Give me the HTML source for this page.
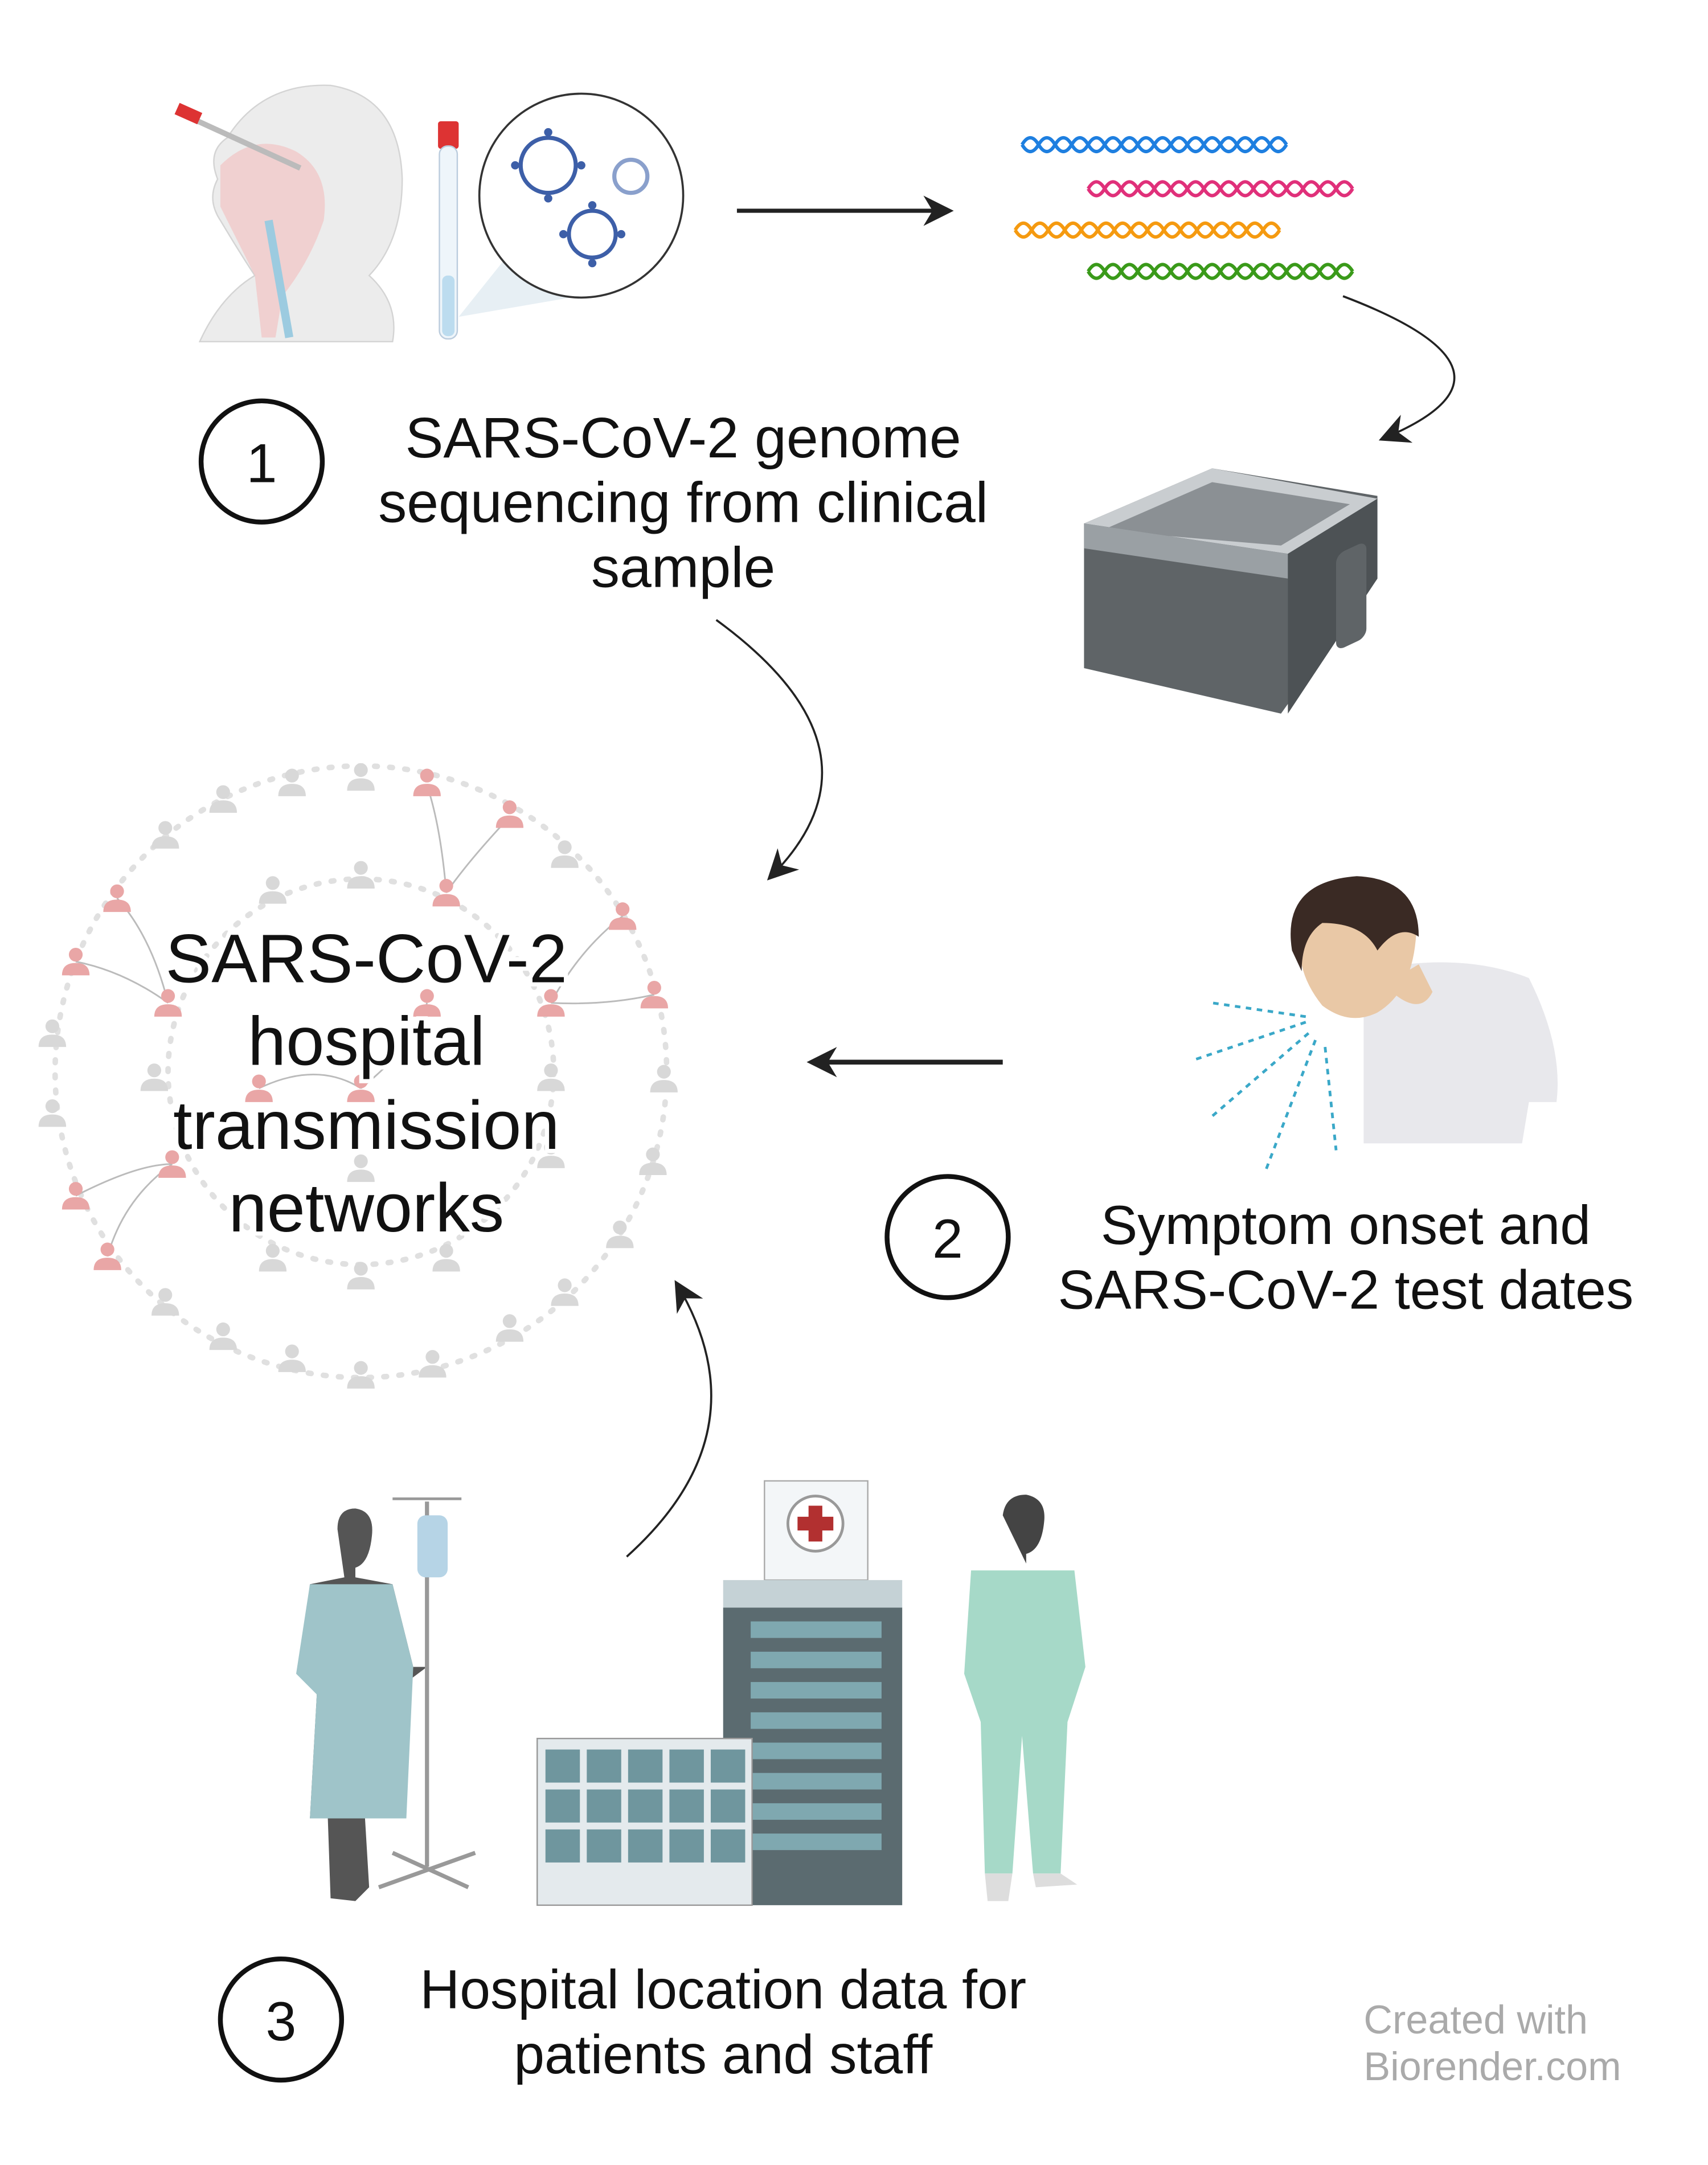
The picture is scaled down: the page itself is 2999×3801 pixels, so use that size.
<!DOCTYPE html>
<html><head><meta charset="utf-8">
<style>
html,body{margin:0;padding:0;background:#fff;}
svg{display:block;}
text{font-family:"Liberation Sans",sans-serif;fill:#111;}
</style></head>
<body>
<svg width="2999" height="3801" viewBox="0 0 1240 1571.6" xmlns="http://www.w3.org/2000/svg">
<defs>
<marker id="ah" viewBox="0 0 10 10" refX="8" refY="5" markerWidth="22" markerHeight="22" markerUnits="userSpaceOnUse" orient="auto-start-reverse">
<path d="M0,0 L10,5 L0,10 L3,5 z" fill="#222"/></marker>
<g id="p"><circle cx="0" cy="-7" r="5"/><path d="M-10,8 Q-10,-1 0,-1 Q10,-1 10,8 z"/></g>
</defs>

<!-- step 1 illustrations -->
<path d="M145,248 Q160,215 185,200 Q175,185 160,160 Q150,145 158,130 Q150,110 165,100 Q190,60 240,62 Q290,70 292,130 Q292,175 268,200 Q290,220 285,248 z" fill="#ececec" stroke="#d4d4d4"/>
<path d="M160,120 Q185,95 215,110 Q240,125 235,160 Q225,190 205,215 L200,245 L190,245 L185,200 Q170,170 160,150 z" fill="#f2c4c4" opacity="0.7"/>
<path d="M195,160 L210,245" stroke="#9ccbe0" stroke-width="6"/>
<line x1="135" y1="84" x2="218" y2="122" stroke="#bbb" stroke-width="4"/>
<rect x="128" y="78" width="18" height="9" fill="#d33" transform="rotate(24 137 82)"/>
<rect x="318" y="88" width="15" height="20" fill="#d33" rx="2"/>
<rect x="319" y="106" width="13" height="140" fill="#eef5fa" stroke="#bcd" rx="6"/>
<rect x="321" y="200" width="9" height="44" fill="#bcdcef" rx="4"/>
<path d="M333,230 L365,190 L420,215 z" fill="#dde8f0" opacity="0.7"/>
<circle cx="422" cy="142" r="74" fill="#fff" stroke="#333" stroke-width="1.5"/>
<g fill="none" stroke="#3d5fa8" stroke-width="3">
<circle cx="398" cy="120" r="20"/><circle cx="430" cy="170" r="17"/><circle cx="458" cy="128" r="12" stroke="#8aa0cc"/></g>
<g fill="#3d5fa8"><circle cx="398" cy="96" r="3"/><circle cx="374" cy="120" r="3"/><circle cx="422" cy="120" r="3"/><circle cx="398" cy="144" r="3"/><circle cx="430" cy="149" r="3"/><circle cx="409" cy="170" r="3"/><circle cx="451" cy="170" r="3"/><circle cx="430" cy="191" r="3"/></g>

<!-- DNA -->
<g fill="none" stroke-width="2.5">
<path d="M742,105 q6,-10 12,0 t12,0 t12,0 t12,0 t12,0 t12,0 t12,0 t12,0 t12,0 t12,0 t12,0 t12,0 t12,0 t12,0 t12,0 t12,0" stroke="#1e7fe0"/>
<path d="M742,105 q6,10 12,0 t12,0 t12,0 t12,0 t12,0 t12,0 t12,0 t12,0 t12,0 t12,0 t12,0 t12,0 t12,0 t12,0 t12,0 t12,0" stroke="#1e7fe0"/>
<path d="M790,137 q6,-10 12,0 t12,0 t12,0 t12,0 t12,0 t12,0 t12,0 t12,0 t12,0 t12,0 t12,0 t12,0 t12,0 t12,0 t12,0 t12,0" stroke="#e0307a"/>
<path d="M790,137 q6,10 12,0 t12,0 t12,0 t12,0 t12,0 t12,0 t12,0 t12,0 t12,0 t12,0 t12,0 t12,0 t12,0 t12,0 t12,0 t12,0" stroke="#e0307a"/>
<path d="M737,167 q6,-10 12,0 t12,0 t12,0 t12,0 t12,0 t12,0 t12,0 t12,0 t12,0 t12,0 t12,0 t12,0 t12,0 t12,0 t12,0 t12,0" stroke="#f59a10"/>
<path d="M737,167 q6,10 12,0 t12,0 t12,0 t12,0 t12,0 t12,0 t12,0 t12,0 t12,0 t12,0 t12,0 t12,0 t12,0 t12,0 t12,0 t12,0" stroke="#f59a10"/>
<path d="M790,197 q6,-10 12,0 t12,0 t12,0 t12,0 t12,0 t12,0 t12,0 t12,0 t12,0 t12,0 t12,0 t12,0 t12,0 t12,0 t12,0 t12,0" stroke="#3a9a1a"/>
<path d="M790,197 q6,10 12,0 t12,0 t12,0 t12,0 t12,0 t12,0 t12,0 t12,0 t12,0 t12,0 t12,0 t12,0 t12,0 t12,0 t12,0 t12,0" stroke="#3a9a1a"/>
</g>

<!-- sequencer -->
<path d="M787,380 L880,340 L1000,360 L1000,420 L930,518 L787,485 z" fill="#5f6467"/>
<path d="M787,380 L880,340 L1000,362 L935,402 z" fill="#c9cdd0"/>
<path d="M800,385 L880,350 L980,366 L930,396 z" fill="#8b9094"/>
<path d="M787,380 L935,402 L935,420 L787,398 z" fill="#9aa0a4"/>
<path d="M935,402 L1000,362 L1000,420 L935,518 z" fill="#4d5255"/>
<rect x="970" y="395" width="22" height="70" rx="6" fill="#5f6467" transform="skewY(-25) translate(0,460)"/>

<!-- step labels -->
<circle cx="190" cy="335" r="44" fill="none" stroke="#111" stroke-width="3.5"/>
<text x="190" y="350" font-size="40" text-anchor="middle">1</text>
<g font-size="41.5" text-anchor="middle">
<text x="496" y="332">SARS-CoV-2 genome</text>
<text x="496" y="379">sequencing from clinical</text>
<text x="496" y="426">sample</text>
</g>
<circle cx="688" cy="898" r="44" fill="none" stroke="#111" stroke-width="3.5"/>
<text x="688" y="913" font-size="40" text-anchor="middle">2</text>
<g font-size="40" text-anchor="middle">
<text x="977" y="903">Symptom onset and</text>
<text x="977" y="950">SARS-CoV-2 test dates</text>
</g>
<circle cx="204" cy="1466" r="44" fill="none" stroke="#111" stroke-width="3.5"/>
<text x="204" y="1481" font-size="40" text-anchor="middle">3</text>
<g font-size="40" text-anchor="middle">
<text x="525" y="1458">Hospital location data for</text>
<text x="525" y="1505">patients and staff</text>
</g>
<g font-size="29" fill="#aaa"><text x="990" y="1476" style="fill:#aaa">Created with</text><text x="990" y="1510" style="fill:#aaa">Biorender.com</text></g>

<!-- arrows -->
<g fill="none" stroke="#222" stroke-width="2.5" marker-end="url(#ah)">
<path d="M535,153 L688,153" stroke-width="3"/>
<path d="M975,215 Q1120,270 1005,318" stroke-width="1.5"/>
<path d="M520,450 Q650,545 560,636" stroke-width="1.5"/>
<path d="M728,771 L590,771" stroke-width="3.5"/>
<path d="M455,1130 Q555,1040 492,933" stroke-width="1.5"/>
</g>

<!-- network -->
<circle cx="262" cy="778" r="222" fill="none" stroke="#e0e0e0" stroke-width="4" stroke-dasharray="2 9" stroke-linecap="round"/>
<circle cx="262" cy="778" r="140" fill="none" stroke="#e0e0e0" stroke-width="4" stroke-dasharray="2 9" stroke-linecap="round"/>
<g fill="none" stroke="#bbb" stroke-width="1.2">
<path d="M310,570 Q320,600 324,648"/><path d="M370,593 Q340,625 324,648"/><path d="M85,652 Q110,680 122,728"/>
<path d="M55,698 Q90,705 122,728"/><path d="M452,665 Q420,690 400,728"/><path d="M475,722 Q440,730 400,728"/>
<path d="M55,868 Q100,845 125,845"/><path d="M78,912 Q90,870 125,845"/><path d="M310,728 Q300,760 262,790"/><path d="M188,790 Q230,770 262,790"/>
</g>
<g fill="#d8d8d8">
<use href="#p" x="162" y="582"/><use href="#p" x="212" y="570"/><use href="#p" x="262" y="566"/><use href="#p" x="120" y="608"/><use href="#p" x="410" y="622"/>
<use href="#p" x="38" y="752"/><use href="#p" x="38" y="810"/><use href="#p" x="482" y="785"/><use href="#p" x="474" y="845"/><use href="#p" x="450" y="898"/>
<use href="#p" x="120" y="947"/><use href="#p" x="162" y="972"/><use href="#p" x="212" y="988"/><use href="#p" x="262" y="1000"/><use href="#p" x="314" y="992"/><use href="#p" x="370" y="966"/><use href="#p" x="410" y="940"/>
<use href="#p" x="198" y="648"/><use href="#p" x="262" y="637"/><use href="#p" x="400" y="784"/><use href="#p" x="112" y="784"/><use href="#p" x="400" y="840"/>
<use href="#p" x="198" y="915"/><use href="#p" x="262" y="928"/><use href="#p" x="324" y="915"/><use href="#p" x="262" y="850"/>
</g>
<g fill="#e9a6a6">
<use href="#p" x="310" y="570"/><use href="#p" x="370" y="593"/><use href="#p" x="324" y="650"/><use href="#p" x="85" y="654"/><use href="#p" x="55" y="700"/>
<use href="#p" x="452" y="667"/><use href="#p" x="475" y="724"/><use href="#p" x="122" y="730"/><use href="#p" x="400" y="730"/><use href="#p" x="310" y="730"/>
<use href="#p" x="188" y="792"/><use href="#p" x="262" y="792"/><use href="#p" x="125" y="847"/><use href="#p" x="55" y="870"/><use href="#p" x="78" y="914"/>
</g>
<g font-size="50" text-anchor="middle" stroke="#fff" stroke-width="6" style="paint-order:stroke">
<text x="266" y="713">SARS-CoV-2</text><text x="266" y="773">hospital</text><text x="266" y="834">transmission</text><text x="266" y="894">networks</text>
</g>

<!-- coughing man -->
<path d="M990,705 Q1060,690 1110,710 Q1135,760 1130,800 L1110,800 L1105,830 L990,830 z" fill="#e8e8ec"/>
<path d="M1005,715 Q1030,740 1040,720 L1030,700 z" fill="#e9c8a6"/>
<path d="M945,675 Q950,640 990,638 Q1030,640 1028,680 Q1025,720 1000,735 Q980,745 960,730 Q948,715 945,700 z" fill="#e9c8a6"/>
<path d="M938,690 Q930,640 985,636 Q1030,638 1030,680 Q1015,670 1000,690 Q990,670 960,670 Q945,680 945,705 z" fill="#3a2a24"/>
<g stroke="#3aa8c8" stroke-width="2" stroke-dasharray="4 4" fill="none">
<path d="M948,738 L880,728"/><path d="M948,742 L865,770"/><path d="M950,750 L878,812"/><path d="M955,755 L918,852"/><path d="M962,760 L970,835"/></g>

<!-- patient -->
<path d="M245,1110 Q245,1095 258,1095 Q272,1097 270,1115 Q268,1135 258,1138 L258,1145 L285,1150 L300,1210 L310,1210 L290,1225 L292,1320 L265,1320 L268,1370 L258,1380 L240,1378 L238,1320 L225,1320 L230,1230 L218,1210 L225,1150 L250,1145 z" fill="#555"/>
<path d="M225,1150 L285,1150 L300,1210 L295,1320 L225,1320 L230,1230 L215,1215 z" fill="#9fc4c9"/>
<line x1="310" y1="1090" x2="310" y2="1355" stroke="#999" stroke-width="3"/>
<path d="M285,1088 L335,1088" stroke="#999" stroke-width="2"/>
<rect x="303" y="1100" width="22" height="45" rx="6" fill="#b6d4e6"/>
<path d="M275,1370 L345,1345 M285,1345 L340,1370" stroke="#999" stroke-width="3"/>

<!-- hospital -->
<rect x="555" y="1075" width="75" height="72" fill="#f3f6f8" stroke="#aaa"/>
<circle cx="592" cy="1106" r="20" fill="#fff" stroke="#999" stroke-width="2"/>
<path d="M587,1093 h10 v8 h8 v10 h-8 v8 h-10 v-8 h-8 v-10 h8 z" fill="#b23030"/>
<rect x="525" y="1147" width="130" height="20" fill="#c5d2d6"/>
<rect x="525" y="1167" width="130" height="216" fill="#5b6b70"/>
<g fill="#7fa8b0"><rect x="545" y="1177" width="95" height="12"/><rect x="545" y="1199" width="95" height="12"/><rect x="545" y="1221" width="95" height="12"/><rect x="545" y="1243" width="95" height="12"/><rect x="545" y="1265" width="95" height="12"/><rect x="545" y="1287" width="95" height="12"/><rect x="545" y="1309" width="95" height="12"/><rect x="545" y="1331" width="95" height="12"/></g>
<rect x="390" y="1262" width="156" height="121" fill="#e4eaed" stroke="#999"/>
<g fill="#6f969e"><rect x="396" y="1270" width="25" height="24"/><rect x="426" y="1270" width="25" height="24"/><rect x="456" y="1270" width="25" height="24"/><rect x="486" y="1270" width="25" height="24"/><rect x="516" y="1270" width="25" height="24"/>
<rect x="396" y="1299" width="25" height="24"/><rect x="426" y="1299" width="25" height="24"/><rect x="456" y="1299" width="25" height="24"/><rect x="486" y="1299" width="25" height="24"/><rect x="516" y="1299" width="25" height="24"/>
<rect x="396" y="1328" width="25" height="24"/><rect x="426" y="1328" width="25" height="24"/><rect x="456" y="1328" width="25" height="24"/><rect x="486" y="1328" width="25" height="24"/><rect x="516" y="1328" width="25" height="24"/></g>

<!-- nurse -->
<path d="M728,1100 Q730,1085 745,1085 Q760,1088 758,1105 Q756,1125 745,1128 L745,1135 Z" fill="#444"/>
<path d="M705,1140 L780,1140 L788,1210 L775,1250 L770,1360 L750,1360 L742,1260 L735,1360 L715,1360 L712,1250 L700,1215 z" fill="#a6d9c8"/>
<path d="M715,1360 L735,1360 L732,1380 L717,1380 z M750,1360 L770,1360 L782,1368 L752,1370 z" fill="#ddd"/>
</svg>
</body></html>
